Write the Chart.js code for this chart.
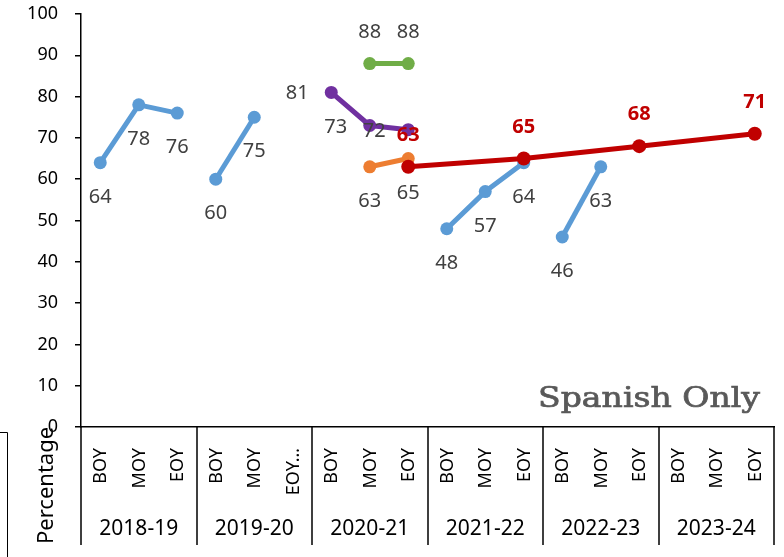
<!DOCTYPE html>
<html>
<head>
<meta charset="utf-8">
<script src="https://cdn.jsdelivr.net/npm/chart.js@4/dist/chart.umd.min.js"></script>
<style>
  html, body { margin: 0; padding: 0; background: #fff; }
  #wrap { width: 784px; height: 557px; position: relative; }
</style>
</head>
<body>
<div id="wrap"><canvas id="chart"></canvas></div>
<script>
const schoolYears = ['2018-19', '2019-20', '2020-21', '2021-22', '2022-23', '2023-24'];
const categoryLabels = [
  'BOY', 'MOY', 'EOY',
  'BOY', 'MOY', 'EOY…',
  'BOY', 'MOY', 'EOY',
  'BOY', 'MOY', 'EOY',
  'BOY', 'MOY', 'EOY',
  'BOY', 'MOY', 'EOY',
];
const yTicks = { min: 0, max: 100, step: 10 };

// values per school year (BOY, MOY, EOY)
const blue1819 = [64, 78, 76];
const blue1920 = [60, 75, null];
const blue2122 = [48, 57, 64];
const blue2223 = [46, 63, null];
const purple2021 = [81, 73, 72];
const orange2021 = [null, 63, 65];
const green2021 = [null, 88, 88];
// EOY of 2020-21, 2021-22, 2022-23, 2023-24
const redEoy = [63, 65, 68, 71];

const BLUE = '#5b9bd5';
const ORANGE = '#ed7d31';
const GREEN = '#70ad47';
const PURPLE = '#7030a0';
const RED = '#c00000';

function place(yearIdx, vals) {
  const arr = Array(categoryLabels.length).fill(null);
  vals.forEach((v, i) => { arr[yearIdx * 3 + i] = v; });
  return arr;
}

function eoyOnly(fromYear, vals) {
  const arr = Array(categoryLabels.length).fill(null);
  vals.forEach((v, i) => { arr[(fromYear + i) * 3 + 2] = v; });
  return arr;
}

function series(data, color, labelPos, extra) {
  return Object.assign({
    data,
    borderColor: color,
    backgroundColor: color,
    pointBackgroundColor: color,
    pointBorderColor: color,
    pointBorderWidth: 0,
    pointRadius: 6.5,
    borderWidth: 5,
    borderJoinStyle: 'round',
    tension: 0,
    spanGaps: false,
    labelPos,
    labelColor: '#404040',
    labelBold: false,
  }, extra || {});
}

// first dataset is drawn on top
const datasets = [
  series(eoyOnly(2, redEoy), RED, 'above', { spanGaps: true, labelColor: RED, labelBold: true, pointRadius: 7 }),
  series(place(2, purple2021), PURPLE, 'left'),
  series(place(2, green2021), GREEN, 'above'),
  series(place(2, orange2021), ORANGE, 'below'),
  series(place(0, blue1819), BLUE, 'below'),
  series(place(1, blue1920), BLUE, 'below'),
  series(place(3, blue2122), BLUE, 'below'),
  series(place(4, blue2223), BLUE, 'below'),
];

const dataLabels = {
  id: 'dataLabels',
  afterDatasetsDraw(chart) {
    const ctx = chart.ctx;
    ctx.save();
    chart.data.datasets.forEach((ds, di) => {
      const meta = chart.getDatasetMeta(di);
      ctx.font = `${ds.labelBold ? 'bold ' : ''}20px "Noto Sans"`;
      ctx.fillStyle = ds.labelColor;
      ctx.textAlign = 'center';
      ctx.textBaseline = 'alphabetic';
      meta.data.forEach((pt, i) => {
        const v = ds.data[i];
        if (v === null || v === undefined) return;
        let x = pt.x;
        let y = pt.y + 7;
        if (ds.labelPos === 'below') y += 33;
        else if (ds.labelPos === 'above') y -= 33;
        else if (ds.labelPos === 'left') x -= 34;
        ctx.fillText(String(v), x, y);
      });
    });
    ctx.restore();
  },
};

const axisExtras = {
  id: 'axisExtras',
  afterDraw(chart) {
    const ctx = chart.ctx;
    const xs = chart.scales.x;
    const area = chart.chartArea;
    const bottom = 545;
    ctx.save();
    ctx.strokeStyle = '#000';
    ctx.lineWidth = 1.5;

    // year dividers below the axis
    ctx.beginPath();
    for (let k = 0; k <= schoolYears.length; k++) {
      const x = Math.round(xs.getPixelForValue(k * 3 - 0.5));
      ctx.moveTo(x, area.bottom);
      ctx.lineTo(x, bottom);
    }
    ctx.stroke();

    // BOY / MOY / EOY
    ctx.fillStyle = '#000';
    ctx.font = '18px "Noto Sans"';
    ctx.textAlign = 'right';
    ctx.textBaseline = 'middle';
    categoryLabels.forEach((lbl, i) => {
      const x = xs.getPixelForValue(i);
      ctx.save();
      ctx.translate(x + 1, area.bottom + 21);
      ctx.rotate(-Math.PI / 2);
      ctx.fillText(lbl, 0, 0);
      ctx.restore();
    });

    // school years
    ctx.font = '21px "Noto Sans"';
    ctx.textAlign = 'center';
    ctx.textBaseline = 'alphabetic';
    schoolYears.forEach((yr, k) => {
      ctx.fillText(yr, xs.getPixelForValue(k * 3 + 1), 535);
    });

    // axis title (sits low, as in the original)
    ctx.save();
    ctx.font = '22px "Noto Sans"';
    ctx.textAlign = 'left';
    ctx.translate(53, 544);
    ctx.rotate(-Math.PI / 2);
    ctx.fillText('Percentage', 0, 0);
    ctx.restore();

    // frame corner of the title box
    ctx.lineWidth = 1;
    ctx.beginPath();
    ctx.moveTo(0, 432.5);
    ctx.lineTo(7.5, 432.5);
    ctx.lineTo(7.5, chart.height);
    ctx.stroke();

    // watermark, stretched to the width it has in the original
    ctx.fillStyle = '#595959';
    ctx.strokeStyle = '#595959';
    ctx.lineWidth = 0.7;
    ctx.font = '27px "DejaVu Serif"';
    ctx.textAlign = 'left';
    const w = ctx.measureText('Spanish Only').width;
    ctx.translate(538, 407);
    ctx.scale(222 / w, 1);
    ctx.fillText('Spanish Only', 0, 0);
    ctx.strokeText('Spanish Only', 0, 0);
    ctx.restore();
  },
};

Chart.defaults.font.family = '"Noto Sans", sans-serif';

new Chart(document.getElementById('chart'), {
  type: 'line',
  data: { labels: categoryLabels, datasets },
  options: {
    responsive: true,
    maintainAspectRatio: false,
    animation: false,
    layout: { padding: { left: 0, top: 14, right: 10, bottom: 130 } },
    plugins: { legend: { display: false }, tooltip: { enabled: false } },
    scales: {
      x: {
        offset: true,
        grid: { display: false, drawTicks: false },
        border: { color: '#000', width: 1.5 },
        ticks: { display: false },
      },
      y: {
        min: yTicks.min,
        max: yTicks.max,
        ticks: { stepSize: yTicks.step, color: '#000', font: { size: 18 }, padding: 17 },
        grid: { drawOnChartArea: false, drawTicks: true, tickLength: 6, color: '#000', lineWidth: 1.5 },
        border: { color: '#000', width: 1.5 },
        afterFit(scale) {
          scale.width = 81;
          scale.paddingTop = 0;
          scale.paddingBottom = 0;
        },
      },
    },
  },
  plugins: [dataLabels, axisExtras],
});
</script>
</body>
</html>
